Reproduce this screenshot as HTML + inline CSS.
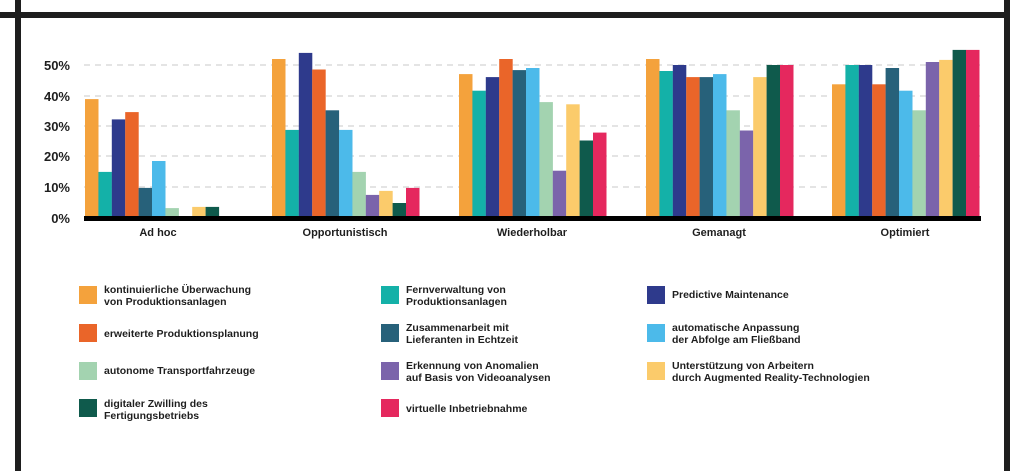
<!DOCTYPE html>
<html><head><meta charset="utf-8"><style>
html,body{margin:0;padding:0;background:#fff;}
svg{display:block;font-family:"Liberation Sans",sans-serif;font-weight:bold;}
</style></head><body>
<svg width="1024" height="471" viewBox="0 0 1024 471" xmlns="http://www.w3.org/2000/svg">
<rect x="0" y="12" width="1010" height="6" fill="#1e1e1e"/>
<rect x="15" y="0" width="6" height="471" fill="#1e1e1e"/>
<rect x="1004" y="0" width="6" height="471" fill="#1e1e1e"/>
<g stroke="#c8c8c8" stroke-width="1" stroke-dasharray="6,5">
<line x1="84" y1="65" x2="980" y2="65"/>
<line x1="84" y1="96" x2="980" y2="96"/>
<line x1="84" y1="126" x2="980" y2="126"/>
<line x1="84" y1="156" x2="980" y2="156"/>
<line x1="84" y1="187" x2="980" y2="187"/>
</g>
<g font-size="13" fill="#1e1e1e" text-anchor="end">
<text x="70" y="70">50%</text><text x="70" y="101">40%</text><text x="70" y="131">30%</text>
<text x="70" y="161">20%</text><text x="70" y="192">10%</text><text x="70" y="223">0%</text>
</g>
<g>
<rect x="85" y="99.1" width="13.5" height="116.9" fill="#f4a23c"/>
<rect x="98.4" y="171.9" width="13.5" height="44.1" fill="#14b1a8"/>
<rect x="111.8" y="119.4" width="13.5" height="96.6" fill="#2e3a8c"/>
<rect x="125.2" y="112.1" width="13.5" height="103.9" fill="#ea6529"/>
<rect x="138.6" y="187.9" width="13.5" height="28.1" fill="#27617a"/>
<rect x="152" y="161" width="13.5" height="55" fill="#4cbaea"/>
<rect x="165.4" y="208.1" width="13.5" height="7.9" fill="#a3d3b0"/>
<rect x="192.2" y="206.9" width="13.5" height="9.1" fill="#fbcb6b"/>
<rect x="205.6" y="206.9" width="13.5" height="9.1" fill="#0f5a4c"/>

<rect x="272" y="59" width="13.5" height="157" fill="#f4a23c"/>
<rect x="285.4" y="129.9" width="13.5" height="86.1" fill="#14b1a8"/>
<rect x="298.8" y="52.9" width="13.5" height="163.1" fill="#2e3a8c"/>
<rect x="312.2" y="69.5" width="13.5" height="146.5" fill="#ea6529"/>
<rect x="325.6" y="110.3" width="13.5" height="105.7" fill="#27617a"/>
<rect x="339" y="129.9" width="13.5" height="86.1" fill="#4cbaea"/>
<rect x="352.4" y="171.9" width="13.5" height="44.1" fill="#a3d3b0"/>
<rect x="365.8" y="194.9" width="13.5" height="21.1" fill="#7b64ab"/>
<rect x="379.2" y="190.9" width="13.5" height="25.1" fill="#fbcb6b"/>
<rect x="392.6" y="203" width="13.5" height="13" fill="#0f5a4c"/>
<rect x="406" y="187.9" width="13.5" height="28.1" fill="#e5285e"/>

<rect x="459" y="74.1" width="13.5" height="141.9" fill="#f4a23c"/>
<rect x="472.4" y="90.7" width="13.5" height="125.3" fill="#14b1a8"/>
<rect x="485.8" y="77.1" width="13.5" height="138.9" fill="#2e3a8c"/>
<rect x="499.2" y="59" width="13.5" height="157" fill="#ea6529"/>
<rect x="512.6" y="70.1" width="13.5" height="145.9" fill="#27617a"/>
<rect x="526" y="68" width="13.5" height="148" fill="#4cbaea"/>
<rect x="539.4" y="102.1" width="13.5" height="113.9" fill="#a3d3b0"/>
<rect x="552.8" y="170.7" width="13.5" height="45.3" fill="#7b64ab"/>
<rect x="566.2" y="104.3" width="13.5" height="111.7" fill="#fbcb6b"/>
<rect x="579.6" y="140.5" width="13.5" height="75.5" fill="#0f5a4c"/>
<rect x="593" y="132.6" width="13.5" height="83.4" fill="#e5285e"/>

<rect x="646" y="59" width="13.5" height="157" fill="#f4a23c"/>
<rect x="659.4" y="71" width="13.5" height="145" fill="#14b1a8"/>
<rect x="672.8" y="65" width="13.5" height="151" fill="#2e3a8c"/>
<rect x="686.2" y="77.1" width="13.5" height="138.9" fill="#ea6529"/>
<rect x="699.6" y="77.1" width="13.5" height="138.9" fill="#27617a"/>
<rect x="713" y="74.1" width="13.5" height="141.9" fill="#4cbaea"/>
<rect x="726.4" y="110.3" width="13.5" height="105.7" fill="#a3d3b0"/>
<rect x="739.8" y="130.5" width="13.5" height="85.5" fill="#7b64ab"/>
<rect x="753.2" y="77.1" width="13.5" height="138.9" fill="#fbcb6b"/>
<rect x="766.6" y="65" width="13.5" height="151" fill="#0f5a4c"/>
<rect x="780" y="65" width="13.5" height="151" fill="#e5285e"/>

<rect x="832" y="84.3" width="13.5" height="131.7" fill="#f4a23c"/>
<rect x="845.4" y="65" width="13.5" height="151" fill="#14b1a8"/>
<rect x="858.8" y="65" width="13.5" height="151" fill="#2e3a8c"/>
<rect x="872.2" y="84.3" width="13.5" height="131.7" fill="#ea6529"/>
<rect x="885.6" y="68" width="13.5" height="148" fill="#27617a"/>
<rect x="899" y="90.7" width="13.5" height="125.3" fill="#4cbaea"/>
<rect x="912.4" y="110.3" width="13.5" height="105.7" fill="#a3d3b0"/>
<rect x="925.8" y="62" width="13.5" height="154" fill="#7b64ab"/>
<rect x="939.2" y="59.9" width="13.5" height="156.1" fill="#fbcb6b"/>
<rect x="952.6" y="49.9" width="13.5" height="166.1" fill="#0f5a4c"/>
<rect x="966" y="49.9" width="13.5" height="166.1" fill="#e5285e"/>
</g>
<rect x="84" y="216" width="897" height="5" fill="#000"/>
<g font-size="11" fill="#1e1e1e" text-anchor="middle">
<text x="158" y="236">Ad hoc</text><text x="345" y="236">Opportunistisch</text>
<text x="532" y="236">Wiederholbar</text><text x="719" y="236">Gemanagt</text><text x="905" y="236">Optimiert</text>
</g>
<g font-size="10.5" fill="#1e1e1e">
<rect x="79" y="286" width="18" height="18" fill="#f4a23c"/>
<text x="104" y="293">kontinuierliche Überwachung</text><text x="104" y="305">von Produktionsanlagen</text>
<rect x="79" y="324" width="18" height="18" fill="#ea6529"/>
<text x="104" y="337">erweiterte Produktionsplanung</text>
<rect x="79" y="362" width="18" height="18" fill="#a3d3b0"/>
<text x="104" y="374">autonome Transportfahrzeuge</text>
<rect x="79" y="399" width="18" height="18" fill="#0f5a4c"/>
<text x="104" y="407">digitaler Zwilling des</text><text x="104" y="419">Fertigungsbetriebs</text>
<rect x="381" y="286" width="18" height="18" fill="#14b1a8"/>
<text x="406" y="293">Fernverwaltung von</text><text x="406" y="305">Produktionsanlagen</text>
<rect x="381" y="324" width="18" height="18" fill="#27617a"/>
<text x="406" y="331">Zusammenarbeit mit</text><text x="406" y="343">Lieferanten in Echtzeit</text>
<rect x="381" y="362" width="18" height="18" fill="#7b64ab"/>
<text x="406" y="369">Erkennung von Anomalien</text><text x="406" y="381">auf Basis von Videoanalysen</text>
<rect x="381" y="399" width="18" height="18" fill="#e5285e"/>
<text x="406" y="412">virtuelle Inbetriebnahme</text>
<rect x="647" y="286" width="18" height="18" fill="#2e3a8c"/>
<text x="672" y="298">Predictive Maintenance</text>
<rect x="647" y="324" width="18" height="18" fill="#4cbaea"/>
<text x="672" y="331">automatische Anpassung</text><text x="672" y="343">der Abfolge am Fließband</text>
<rect x="647" y="362" width="18" height="18" fill="#fbcb6b"/>
<text x="672" y="369">Unterstützung von Arbeitern</text><text x="672" y="381">durch Augmented Reality-Technologien</text>
</g>
</svg>
</body></html>
